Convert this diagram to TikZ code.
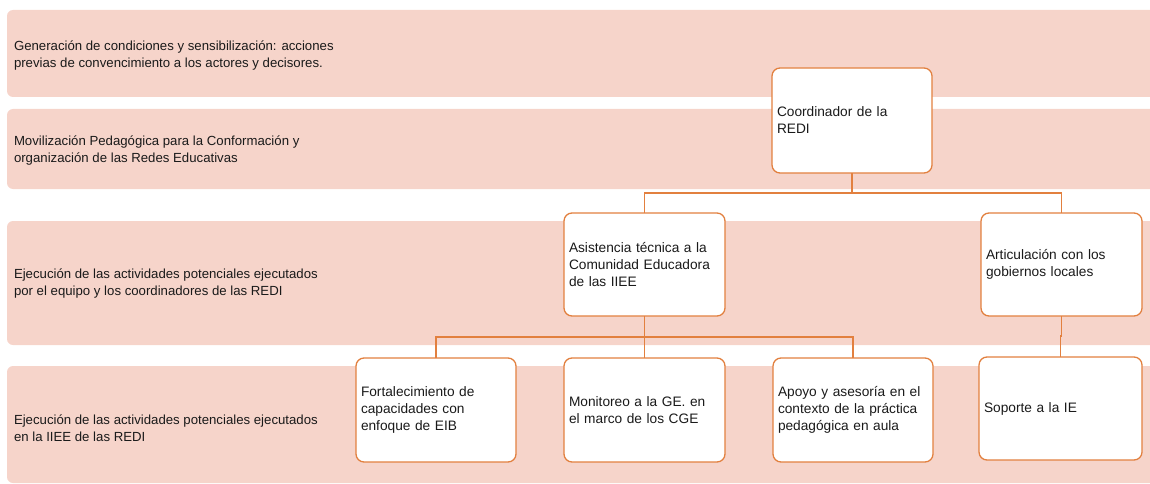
\documentclass[tikz,border=0pt]{standalone}
\usepackage{fontspec}
\setmainfont{Liberation Sans}
\definecolor{bandpink}{HTML}{F6D4CA}
\definecolor{orgline}{HTML}{E2803F}
\definecolor{txt}{HTML}{1A1A1A}
\begin{document}
\begin{tikzpicture}[x=1pt,y=-1pt,
  band/.style={fill=bandpink, rounded corners=6pt, draw=none},
  bandlabel/.style={anchor=base west, inner sep=0pt, outer sep=0pt, text=txt,
    font=\fontsize{13.2}{17}\selectfont},
  box/.style={draw=orgline, line width=1.3pt, fill=white, rounded corners=8pt,
    anchor=north west, minimum height=104pt, text width=151pt, inner xsep=5pt,
    inner ysep=0pt, outer sep=0pt, align=left, text=txt,
    font=\fontsize{13.7}{17}\selectfont},
  link/.style={draw=orgline, line width=1.3pt}]
\useasboundingbox (0,0) rectangle (1150,484);
\clip (0,0) rectangle (1150,484);
% bands
\fill[band] (7,10) rectangle (1170,97);
\fill[band] (7,109) rectangle (1170,189);
\fill[band] (7,221) rectangle (1170,345);
\fill[band] (7,366) rectangle (1170,483);
% band labels
\node[bandlabel] (l1) at (14,51) {\begin{tabular}[t]{@{}l@{}}Generación de condiciones y sensibilización: acciones\\previas de convencimiento a los actores y decisores.\end{tabular}};
\node[bandlabel] (l2) at (14,146) {\begin{tabular}[t]{@{}l@{}}Movilización Pedagógica para la Conformación y\\organización de las Redes Educativas\end{tabular}};
\node[bandlabel] (l3) at (14,278) {\begin{tabular}[t]{@{}l@{}}Ejecución de las actividades potenciales ejecutados\\por el equipo y los coordinadores de las REDI\end{tabular}};
\node[bandlabel] (l4) at (14,424) {\begin{tabular}[t]{@{}l@{}}Ejecución de las actividades potenciales ejecutados\\en la IIEE de las REDI\end{tabular}};
% boxes
\node[box, minimum height=105pt, text width=150pt] (coord) at (772,68) {Coordinador de la\\REDI};
\node[box, minimum height=103pt] (asis) at (564,213) {Asistencia técnica a la\\Comunidad Educadora\\de las IIEE};
\node[box, minimum height=103pt] (art) at (981,213) {Articulación con los\\gobiernos locales};
\node[box, text width=150pt] (fort) at (356,358) {Fortalecimiento de\\capacidades con\\enfoque de EIB};
\node[box] (moni) at (564,358) {Monitoreo a la GE. en\\el marco de los CGE};
\node[box, text width=150pt] (apoyo) at (773,358) {Apoyo y asesoría en el\\contexto de la práctica\\pedagógica en aula};
\node[box, minimum height=103pt, text width=153pt] (sop) at (979,357) {Soporte a la IE};
% connectors
\coordinate (h1) at (852,193);
\coordinate (h2) at (644,337);
\coordinate (h3) at (1061,336);
\draw[link] (coord.south) -- (h1);
\draw[link] (asis.north) -- (asis.north |- h1) -- (art.north |- h1) -- (art.north);
\draw[link] (asis.south) -- (moni.north);
\draw[link] (fort.north) -- (fort.north |- h2) -- (apoyo.north |- h2) -- (apoyo.north);
\draw[link] (art.south) -- (art.south |- h3) -- (sop.north |- h3) -- (sop.north);
\end{tikzpicture}
\end{document}
